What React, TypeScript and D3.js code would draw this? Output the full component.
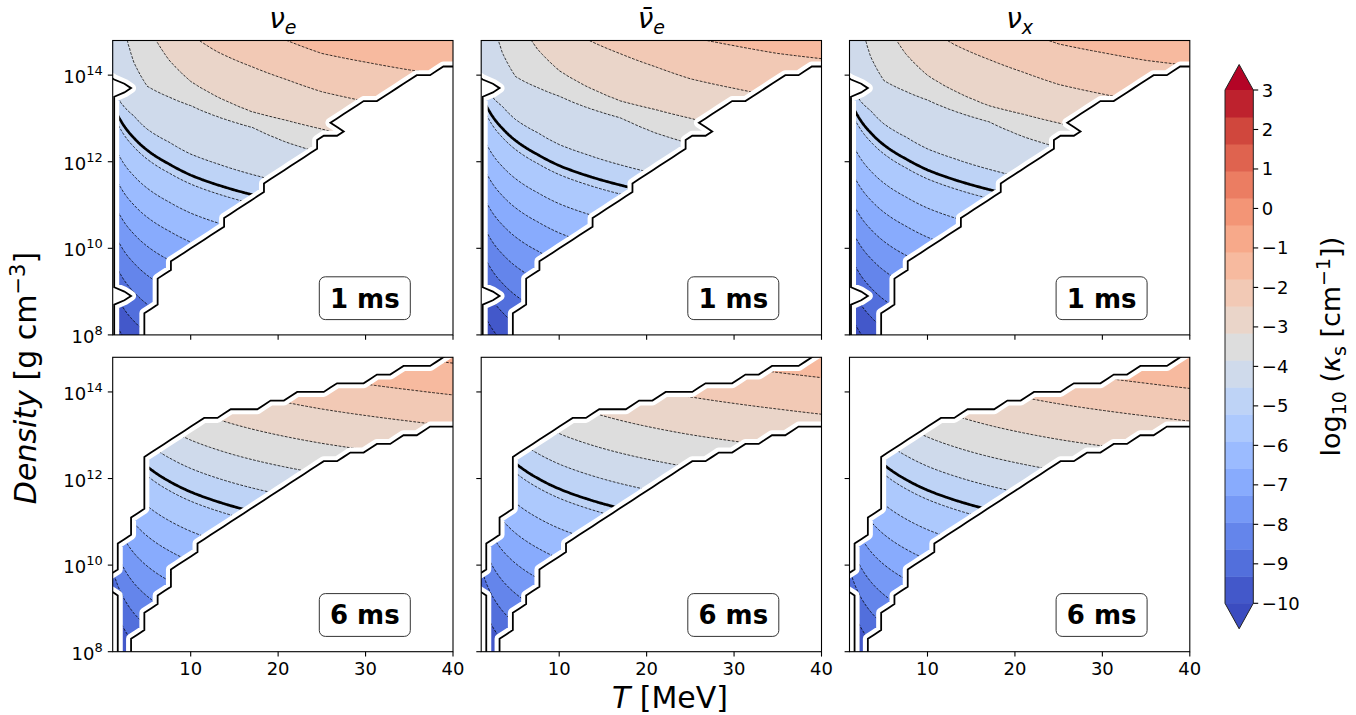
import React, { useMemo } from "react";
import * as d3 from "d3";

const W = 1356;
const H = 715;

const speciesSub = ["e", "e", "x"];
const speciesBar = [false, true, false];
const timeLabels = ["1 ms", "6 ms"];

// filled contour levels of log10(kappa_s): 20 levels from -10 to 3
const levels = d3.range(20).map((k) => -10 + (13 * k) / 19);
const thickLevel = -5;
const cbTicks = d3.range(-10, 4);
const xTicks = [10, 20, 30, 40];
const yTicks = [8, 10, 12, 14];

// matplotlib coolwarm
const coolwarmStops = [
  [59, 76, 192], [68, 90, 204], [77, 104, 215], [87, 117, 225], [98, 130, 234],
  [108, 142, 241], [119, 154, 247], [130, 165, 251], [141, 176, 254], [152, 185, 255],
  [163, 194, 255], [174, 201, 253], [184, 208, 249], [194, 213, 244], [204, 217, 238],
  [213, 219, 230], [221, 221, 221], [229, 216, 209], [236, 211, 197], [241, 204, 185],
  [245, 196, 173], [247, 187, 160], [247, 177, 148], [247, 166, 135], [244, 154, 123],
  [241, 141, 111], [236, 127, 99], [229, 112, 88], [222, 96, 77], [213, 80, 66],
  [203, 62, 56], [192, 40, 47], [180, 4, 38],
];

// iso-line positions (log10 rho) of these kappa levels, read at the temperatures isoT
const isoAnchors = [-10, -5, -4.53, -3.84, -3.16, -2.47, -1.79, -1.11];
const isoT = [1, 2, 3.5, 5, 7.5, 10, 13, 17, 21, 25, 30, 35, 40, 45];

const iso1ms = [
  [8.5, 13.4, 13.8, 15.8, 16.4, 16.9, 17.5, 18.4],
  [8.05, 12.95, 13.35, 15.5, 16.1, 16.6, 17.3, 18.2],
  [7.65, 12.55, 13.05, 14.3, 15.5, 16.3, 17.0, 17.9],
  [7.37, 12.27, 12.75, 13.75, 15.2, 16.0, 16.7, 17.6],
  [7.05, 11.95, 12.45, 13.5, 14.35, 15.4, 16.3, 17.2],
  [6.79, 11.69, 12.17, 13.3, 13.85, 14.95, 15.9, 16.8],
  [6.57, 11.47, 11.95, 13.05, 13.5, 14.55, 15.5, 16.4],
  [6.34, 11.24, 11.7, 12.8, 13.15, 14.2, 15.1, 16.0],
  [6.15, 11.05, 11.5, 12.45, 12.95, 13.9, 14.8, 15.7],
  [6.0, 10.9, 11.3, 12.2, 12.75, 13.62, 14.5, 15.4],
  [5.85, 10.75, 11.1, 11.95, 12.5, 13.4, 14.3, 15.2],
  [5.7, 10.6, 10.95, 11.75, 12.3, 13.2, 14.12, 15.0],
  [5.55, 10.45, 10.8, 11.6, 12.1, 13.05, 14.0, 14.9],
  [5.4, 10.3, 10.65, 11.45, 11.95, 12.9, 13.9, 14.8],
];

const iso6ms = [
  [8.57, 13.65, 14.19, 14.85, 15.55, 16.35, 17.07, 17.8],
  [7.98, 13.06, 13.6, 14.26, 14.96, 15.76, 16.48, 17.21],
  [7.5, 12.58, 13.12, 13.78, 14.48, 15.28, 16.0, 16.73],
  [7.2, 12.28, 12.82, 13.48, 14.18, 14.98, 15.7, 16.43],
  [6.86, 11.94, 12.48, 13.14, 13.84, 14.64, 15.36, 16.09],
  [6.61, 11.69, 12.23, 12.89, 13.59, 14.39, 15.11, 15.84],
  [6.39, 11.47, 12.01, 12.67, 13.37, 14.17, 14.89, 15.62],
  [6.16, 11.24, 11.78, 12.44, 13.14, 13.94, 14.66, 15.39],
  [5.98, 11.06, 11.6, 12.26, 12.96, 13.76, 14.48, 15.21],
  [5.83, 10.91, 11.45, 12.11, 12.81, 13.61, 14.33, 15.06],
  [5.68, 10.76, 11.3, 11.96, 12.66, 13.46, 14.18, 14.91],
  [5.55, 10.63, 11.17, 11.83, 12.53, 13.33, 14.05, 14.78],
  [5.43, 10.51, 11.05, 11.71, 12.41, 13.21, 13.93, 14.66],
  [5.33, 10.41, 10.95, 11.61, 12.31, 13.11, 13.83, 14.56],
];

// per-species offset of each iso-line (nu_e, nubar_e, nu_x)
const isoShift1ms = [
  [0, 0, 0, 0, 0, 0, 0, 0],
  [0.2, 0.22, 0.22, 0.22, 0.25, 0.3, 0.38, 0.42],
  [0.1, 0.12, 0.12, 0.13, 0.14, 0.17, 0.22, 0.25],
];
const isoShift6ms = [
  [0, 0, 0, 0, 0, 0, 0, 0],
  [0.05, 0.07, 0.1, 0.15, 0.2, 0.28, 0.4, 0.45],
  [0.03, 0.04, 0.05, 0.07, 0.09, 0.12, 0.15, 0.18],
];

// populated cells: node i sits at T = -0.62 + 1.52 i, rows every 0.2 dex from 7.3
const maskT = d3.range(30).map((i) => -0.62 + 1.52 * i);
const maskLr = d3.range(43).map((j) => 7.3 + 0.2 * j);

const lower1ms = [14.1, 14.1, 7.0, 7.0, 8.6, 9.5, 9.9, 10.1, 10.3, 10.5, 10.9, 11.1, 11.3, 11.7, 11.9,
  12.1, 12.3, 12.7, 12.7, 13.3, 13.5, 13.5, 13.7, 13.9, 14.1, 14.1, 14.3, 14.3, 14.3, 14.3];
const upper1ms = maskT.map(() => 99);
const holes1ms = [[2, 13.7], [2, 8.9], [18, 12.9]];
// partly filled first column (node index, filling)
const partial1ms = [[1, 0.35]];

const lower6ms = [99, 9.5, 7.0, 8.5, 9.1, 9.5, 10.1, 10.3, 10.7, 10.9, 11.1, 11.3, 11.5, 11.7, 11.9,
  12.1, 12.3, 12.5, 12.5, 12.7, 12.7, 12.9, 12.9, 13.1, 13.1, 13.3, 13.3, 13.3, 13.3, 13.5];
const upper6ms = [0, 9.7, 10.5, 11.1, 12.5, 12.7, 12.9, 13.1, 13.3, 13.3, 13.5, 13.5, 13.5, 13.7, 13.7,
  13.9, 13.9, 13.9, 14.1, 14.1, 14.1, 14.3, 14.3, 14.5, 14.5, 14.5, 14.7, 14.9, 15.1, 15.3];
const holes6ms = [];
const partial6ms = [];

// layout
const panelLefts = [112.7, 481.2, 849.5];
const panelW = 340.3;
const rowTops = [40.5, 357.3];
const panelH = 294.4;
const tDomain = [1.08, 40];
const lrDomain = [8, 14.8];
const tickLen = 4.9;

const fieldT = d3.range(181).map((i) => -1 + 0.25 * i);
const fieldLr = d3.range(337).map((j) => 7.2 + 0.025 * j);
const isoLogT = isoT.map(Math.log);

function coolwarm(t) {
  const n = coolwarmStops.length - 1;
  const x = Math.max(0, Math.min(1, t)) * n;
  const i = Math.min(n - 1, Math.floor(x));
  const f = x - i;
  const a = coolwarmStops[i];
  const b = coolwarmStops[i + 1];
  const c = a.map((v, k) => Math.round(v + f * (b[k] - v)));
  return `rgb(${c[0]},${c[1]},${c[2]})`;
}

const bandColor = (k) => (k >= levels.length - 1 ? coolwarm(1) : coolwarm((k + 0.5) / (levels.length - 1)));

function isoAt(table, T) {
  const lt = Math.log(Math.min(45, Math.max(1, T)));
  let i = d3.bisectRight(isoLogT, lt) - 1;
  i = Math.max(0, Math.min(isoT.length - 2, i));
  const f = (lt - isoLogT[i]) / (isoLogT[i + 1] - isoLogT[i]);
  return table[i].map((p, k) => p + f * (table[i + 1][k] - p));
}

function valueAt(pos, lr) {
  let k = 0;
  while (k < pos.length - 2 && lr > pos[k + 1]) k++;
  return isoAnchors[k] + ((lr - pos[k]) / (pos[k + 1] - pos[k])) * (isoAnchors[k + 1] - isoAnchors[k]);
}

function gridPath(x0, dx, y0, dy, sx, sy) {
  return d3.geoPath(
    d3.geoTransform({
      point(gx, gy) {
        this.stream.point(sx(x0 + (gx - 0.5) * dx), sy(y0 + (gy - 0.5) * dy));
      },
    })
  );
}

function buildMask(lower, upper, holes, partial) {
  const nx = maskT.length;
  const ny = maskLr.length;
  const v = new Array(nx * ny).fill(0);
  partial.forEach(([i, w]) => {
    for (let j = 0; j < ny; j++) v[j * nx + i] = w;
  });
  for (let j = 0; j < ny; j++) {
    for (let i = 0; i < nx; i++) {
      const lr = maskLr[j];
      if (lr >= lower[i] - 1e-6 && lr <= upper[i] + 1e-6) v[j * nx + i] = 1;
    }
  }
  holes.forEach(([i, lr]) => {
    v[Math.round((lr - maskLr[0]) / 0.2) * nx + i] = 0;
  });
  return d3.contours().size([nx, ny]).contour(v, 0.5);
}

function buildPanels() {
  const masks = [
    buildMask(lower1ms, upper1ms, holes1ms, partial1ms),
    buildMask(lower6ms, upper6ms, holes6ms, partial6ms),
  ];
  const out = [];
  [0, 1].forEach((row) => {
    [0, 1, 2].forEach((col) => {
      const left = panelLefts[col];
      const top = rowTops[row];
      const x = d3.scaleLinear().domain(tDomain).range([left, left + panelW]);
      const y = d3.scaleLinear().domain(lrDomain).range([top + panelH, top]);
      const table = row === 0 ? iso1ms : iso6ms;
      const shift = (row === 0 ? isoShift1ms : isoShift6ms)[col];
      const nx = fieldT.length;
      const ny = fieldLr.length;
      const values = new Array(nx * ny);
      fieldT.forEach((T, i) => {
        const pos = isoAt(table, T).map((p, k) => p + shift[k]);
        fieldLr.forEach((lr, j) => {
          values[j * nx + i] = valueAt(pos, lr);
        });
      });
      const fp = gridPath(fieldT[0], 0.25, fieldLr[0], 0.025, x, y);
      const gen = d3.contours().size([nx, ny]);
      const bands = gen.thresholds(levels)(values).map((c) => fp(c));
      const thick = fp(gen.contour(values, thickLevel));
      const maskPath = gridPath(maskT[0], 1.52, maskLr[0], 0.2, x, y)(masks[row]);
      out.push({ id: `${row}-${col}`, row, col, left, top, x, y, bands, thick, maskPath });
    });
  });
  return out;
}

function Panel({ p }) {
  const { id, row, col, left, top, x, y } = p;
  const bottom = top + panelH;
  return (
    <g>
      <defs>
        <clipPath id={`frame-${id}`}>
          <rect x={left} y={top} width={panelW} height={panelH} />
        </clipPath>
        <clipPath id={`mask-${id}`}>
          <path d={p.maskPath} />
        </clipPath>
      </defs>
      <g clipPath={`url(#frame-${id})`}>
        <g clipPath={`url(#mask-${id})`}>
          <rect x={left} y={top} width={panelW} height={panelH} fill={coolwarm(0)} />
          {p.bands.map((d, k) => (
            <path key={k} d={d} fill={bandColor(k)} />
          ))}
          {p.bands.map((d, k) => (
            <path key={"l" + k} d={d} fill="none" stroke="#000" strokeWidth={0.8} strokeDasharray="2.8,1.4" />
          ))}
          <path d={p.thick} fill="none" stroke="#000" strokeWidth={2.7} />
        </g>
        <path d={p.maskPath} fill="none" stroke="#fff" strokeWidth={10} strokeLinejoin="round" />
        <path d={p.maskPath} fill="none" stroke="#000" strokeWidth={1.8} />
      </g>
      <rect x={left} y={top} width={panelW} height={panelH} fill="none" stroke="#000" strokeWidth={1.1} />
      {xTicks.map((t) => (
        <g key={"x" + t}>
          <line x1={x(t)} x2={x(t)} y1={bottom} y2={bottom + tickLen} stroke="#000" strokeWidth={1.1} />
          {row === 1 && (
            <text x={x(t)} y={bottom + 23.5} textAnchor="middle" fontSize={18}>
              {t}
            </text>
          )}
        </g>
      ))}
      {yTicks.map((t) => (
        <g key={"y" + t}>
          <line x1={left - tickLen} x2={left} y1={y(t)} y2={y(t)} stroke="#000" strokeWidth={1.1} />
          {col === 0 && (
            <text x={left - 10} y={y(t) + 8} textAnchor="end" fontSize={18}>
              10
              <tspan dy={-8} fontSize={13}>
                {t}
              </tspan>
            </text>
          )}
        </g>
      ))}
      {row === 0 && (
        <text x={left + panelW / 2} y={28} textAnchor="middle" fontSize={28}>
          <tspan fontStyle="italic">{speciesBar[col] ? "\u03bd\u0304" : "\u03bd"}</tspan>
          <tspan dy={6} fontSize={19} fontStyle="italic">
            {speciesSub[col]}
          </tspan>
        </text>
      )}
      <rect x={left + 206.6} y={top + 236.3} width={91} height={42.8} rx={6} fill="#fff" stroke="#333" strokeWidth={1} />
      <text x={left + 252.1} y={top + 267} textAnchor="middle" fontSize={26} fontWeight="bold">
        {timeLabels[row]}
      </text>
    </g>
  );
}

function Colorbar() {
  const x0 = 1225;
  const w = 28.3;
  const cy = d3.scaleLinear().domain([-10, 3]).range([603.3, 90]);
  const mid = x0 + w / 2;
  const topTip = cy(3) - 25.5;
  const botTip = cy(-10) + 25.5;
  const fmt = (v) => (v < 0 ? "\u2212" + Math.abs(v) : String(v));
  return (
    <g>
      {levels.slice(0, -1).map((l, k) => (
        <rect key={k} x={x0} y={cy(levels[k + 1])} width={w} height={cy(l) - cy(levels[k + 1]) + 0.5} fill={bandColor(k)} />
      ))}
      <path d={`M${x0},${cy(3)}L${mid},${topTip}L${x0 + w},${cy(3)}Z`} fill={coolwarm(1)} />
      <path d={`M${x0},${cy(-10)}L${mid},${botTip}L${x0 + w},${cy(-10)}Z`} fill={coolwarm(0)} />
      <path
        d={`M${x0},${cy(3)}L${mid},${topTip}L${x0 + w},${cy(3)}L${x0 + w},${cy(-10)}L${mid},${botTip}L${x0},${cy(-10)}Z`}
        fill="none"
        stroke="#222"
        strokeWidth={1}
      />
      {cbTicks.map((v) => (
        <g key={v}>
          <line x1={x0 + w} x2={x0 + w + tickLen} y1={cy(v)} y2={cy(v)} stroke="#000" strokeWidth={1.1} />
          <text x={x0 + w + 8.5} y={cy(v) + 6.5} fontSize={18}>
            {fmt(v)}
          </text>
        </g>
      ))}
      <text transform={`translate(1340,${cy(-3.5)}) rotate(-90)`} textAnchor="middle" fontSize={27}>
        log
        <tspan dy={6} fontSize={19}>10</tspan>
        <tspan dy={-6}> (</tspan>
        <tspan fontStyle="italic">{"\u03ba"}</tspan>
        <tspan dy={6} fontSize={19}>s</tspan>
        <tspan dy={-6}> [cm</tspan>
        <tspan dy={-10} fontSize={19}>{"\u22121"}</tspan>
        <tspan dy={10}>])</tspan>
      </text>
    </g>
  );
}

export default function App() {
  const panels = useMemo(() => buildPanels(), []);
  return (
    <svg
      width={W}
      height={H}
      style={{ position: "absolute", left: 0, top: 0, background: "#fff", fontFamily: "DejaVu Sans" }}
    >
      {panels.map((p) => (
        <Panel key={p.id} p={p} />
      ))}
      <Colorbar />
      <text x={670} y={708} textAnchor="middle" fontSize={30}>
        <tspan fontStyle="italic">T</tspan> [MeV]
      </text>
      <text transform="translate(36,378) rotate(-90)" textAnchor="middle" fontSize={30}>
        <tspan fontStyle="italic">Density</tspan> [g cm
        <tspan dy={-11} fontSize={21}>{"\u22123"}</tspan>
        <tspan dy={11}>]</tspan>
      </text>
    </svg>
  );
}
